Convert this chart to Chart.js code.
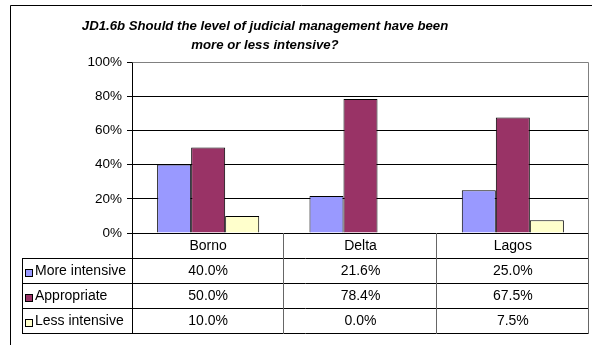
<!DOCTYPE html>
<html>
<head>
<meta charset="utf-8">
<script src="https://cdn.jsdelivr.net/npm/chart.js@4/dist/chart.umd.min.js"></script>
<style>
html,body{margin:0;padding:0;background:#fff;}
#wrap{width:592px;height:345px;position:relative;}
canvas{display:block;}
</style>
</head>
<body>
<div id="wrap"><canvas id="c" width="592" height="345"></canvas></div>
<script>
const titleLines = ['JD1.6b Should the level of judicial management have been', 'more or less intensive?'];
const categories = ['Borno', 'Delta', 'Lagos'];
const seriesNames = ['More intensive', 'Appropriate', 'Less intensive'];
const moreIntensive = [40.0, 21.6, 25.0];
const appropriate = [50.0, 78.4, 67.5];
const lessIntensive = [10.0, 0.0, 7.5];
const tickLabels = ['0%', '20%', '40%', '60%', '80%', '100%'];
const seriesColors = ['#9999FF', '#993366', '#FFFFCC'];

const FONT = '"Liberation Sans", Arial, sans-serif';

const tablePlugin = {
  id: 'tablePlugin',
  afterDraw(chart) {
    const ctx = chart.ctx;
    const area = chart.chartArea;
    const xs = chart.scales.x;
    const colW = (area.right - area.left) / categories.length;
    const rowH = 25;
    const legendLeft = 22;
    const top = area.bottom;
    const nRows = 1 + seriesNames.length;
    const bottom = top + rowH * nRows;
    ctx.save();
    // frame
    ctx.strokeStyle = '#000';
    ctx.lineWidth = 1;
    ctx.beginPath();
    ctx.moveTo(10.5, 345); ctx.lineTo(10.5, 5.5); ctx.lineTo(592, 5.5);
    ctx.stroke();
    // title
    ctx.fillStyle = '#000';
    ctx.font = 'italic bold 13.2px ' + FONT;
    ctx.textAlign = 'center';
    ctx.textBaseline = 'middle';
    ctx.fillText(titleLines[0], 265, 26);
    ctx.fillText(titleLines[1], 265, 45);
    // plot right/top border
    ctx.strokeStyle = '#808080';
    ctx.beginPath();
    ctx.moveTo(Math.round(area.left) + 0.5, Math.round(area.top) + 0.5);
    ctx.lineTo(Math.round(area.right) - 0.5, Math.round(area.top) + 0.5);
    ctx.lineTo(Math.round(area.right) - 0.5, Math.round(area.bottom));
    ctx.stroke();
    // table lines
    ctx.strokeStyle = '#000';
    ctx.beginPath();
    for (let r = 1; r <= nRows; r++) {
      const y = Math.round(top + r * rowH) + 0.5;
      ctx.moveTo(legendLeft, y); ctx.lineTo(Math.round(area.right), y);
    }
    ctx.moveTo(legendLeft + 0.5, Math.round(top + rowH)); ctx.lineTo(legendLeft + 0.5, Math.round(bottom) + 1);
    ctx.moveTo(Math.round(area.left) + 0.5, Math.round(top)); ctx.lineTo(Math.round(area.left) + 0.5, Math.round(bottom) + 1);
    ctx.stroke();
    ctx.strokeStyle = '#666';
    ctx.beginPath();
    for (let c = 1; c <= categories.length; c++) {
      const x = Math.round(area.left + c * colW) - 0.5;
      ctx.moveTo(x, Math.round(top)); ctx.lineTo(x, Math.round(bottom) + 1);
    }
    ctx.stroke();
    // header text
    ctx.font = '14px ' + FONT;
    ctx.fillStyle = '#000';
    ctx.textAlign = 'center';
    categories.forEach((cat, i) => {
      ctx.fillText(cat, xs.getPixelForValue(i), top + rowH / 2 + 1);
    });
    // rows
    chart.data.datasets.forEach((ds, r) => {
      const yc = top + rowH * (r + 1) + rowH / 2 + 1;
      // legend marker
      ctx.fillStyle = ds.backgroundColor;
      ctx.fillRect(25.5, Math.round(yc - 3) + 0.5, 7, 7);
      ctx.strokeStyle = '#000';
      ctx.strokeRect(25.5, Math.round(yc - 3) + 0.5, 7, 7);
      ctx.fillStyle = '#000';
      ctx.textAlign = 'left';
      ctx.fillText(ds.label, 35, yc);
      ctx.textAlign = 'center';
      ds.data.forEach((v, i) => {
        ctx.fillText(v.toFixed(1) + '%', xs.getPixelForValue(i), yc);
      });
    });
    ctx.restore();
  }
};

const seriesData = [moreIntensive, appropriate, lessIntensive];

new Chart(document.getElementById('c'), {
  type: 'bar',
  data: {
    labels: categories,
    datasets: seriesNames.map((name, i) => ({
      label: name,
      data: seriesData[i],
      backgroundColor: seriesColors[i],
      borderColor: '#000',
      borderWidth: 1,
      categoryPercentage: 0.67,
      barPercentage: 1.0
    }))
  },
  options: {
    responsive: false,
    devicePixelRatio: 1,
    animation: false,
    layout: { padding: { top: 62, left: 0, right: 3, bottom: 112 } },
    plugins: {
      legend: { display: false },
      title: { display: false },
      tooltip: { enabled: false }
    },
    scales: {
      x: { display: false },
      y: {
        min: 0, max: 100,
        afterFit(scale) { scale.width = 132; },
        ticks: {
          stepSize: 20,
          padding: 5,
          color: '#000',
          font: { family: FONT, size: 13.5 },
          callback: (v) => tickLabels[Math.round(v / 20)]
        },
        grid: {
          color: (ctx) => ctx.tick && ctx.tick.value === 100 ? 'rgba(0,0,0,0)' : '#000',
          lineWidth: 1,
          tickLength: 5,
          tickColor: '#000'
        },
        border: { color: '#000', width: 1 }
      }
    }
  },
  plugins: [tablePlugin]
});
</script>
</body>
</html>
